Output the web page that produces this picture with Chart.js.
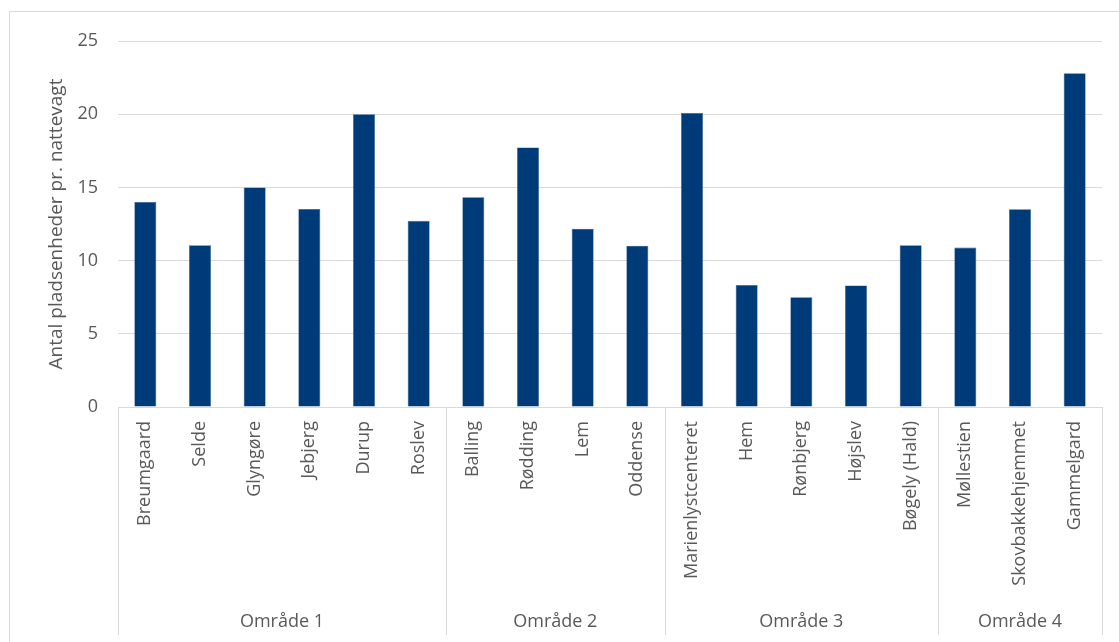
<!DOCTYPE html>
<html>
<head>
<meta charset="utf-8">
<script src="https://cdn.jsdelivr.net/npm/chart.js@4/dist/chart.umd.min.js"></script>
<style>
  html, body { margin: 0; padding: 0; background: #fff; overflow: hidden; }
  #wrap { position: relative; width: 1119px; height: 642px; overflow: hidden; }
  #frame { position: absolute; left: 9px; top: 11px; width: 2000px; height: 2000px; border: 1px solid #d9d9d9; pointer-events: none; }
  canvas { position: absolute; left: 0; top: 0; }
</style>
</head>
<body>
<div id="wrap">
  <div id="frame"></div>
  <canvas id="c" width="1119" height="642"></canvas>
</div>
<script>
const categories = ["Breumgaard", "Selde", "Glyngøre", "Jebjerg", "Durup", "Roslev",
  "Balling", "Rødding", "Lem", "Oddense",
  "Marienlystcenteret", "Hem", "Rønbjerg", "Højslev", "Bøgely (Hald)",
  "Møllestien", "Skovbakkehjemmet", "Gammelgard"];
const values = [14.0, 11.05, 15.0, 13.52, 20.0, 12.72,
  14.32, 17.73, 12.18, 11.02,
  20.09, 8.34, 7.5, 8.3, 11.05,
  10.89, 13.5, 22.8];
const groupNames = ["Område 1", "Område 2", "Område 3", "Område 4"];
const groupSizes = [6, 4, 5, 3];
const yTicks = [0, 5, 10, 15, 20, 25];
const yTitle = "Antal pladsenheder pr. nattevagt";

// group boundaries and centers in category-index units
const groupBounds = [-0.5];
const groupCenters = [];
groupSizes.forEach(n => {
  const start = groupBounds[groupBounds.length - 1];
  groupCenters.push(start + n / 2);
  groupBounds.push(start + n);
});

const FONT = "'Open Sans', 'Noto Sans', sans-serif";
const TXT = "#595959";
const GRID = "#d9d9d9";

const groupAxis = {
  id: 'groupAxis',
  afterDraw(chart) {
    const xs = chart.scales.x;
    const ctx = chart.ctx;
    ctx.save();
    ctx.strokeStyle = GRID;
    ctx.lineWidth = 1;
    const top = chart.chartArea.bottom;
    const bottom = 635;
    groupBounds.forEach(b => {
      const px = Math.round(xs.getPixelForValue(b)) + 0.5;
      ctx.beginPath();
      ctx.moveTo(px, top);
      ctx.lineTo(px, bottom);
      ctx.stroke();
    });
    ctx.fillStyle = TXT;
    ctx.font = "18px " + FONT;
    ctx.textAlign = 'center';
    ctx.textBaseline = 'middle';
    groupCenters.forEach((c, i) => {
      ctx.fillText(groupNames[i], xs.getPixelForValue(c), 622);
    });
    ctx.restore();
  }
};

new Chart(document.getElementById('c'), {
  type: 'bar',
  data: {
    labels: categories,
    datasets: [{
      data: values,
      backgroundColor: '#003b79',
      borderColor: '#2a5a92',
      borderWidth: 0.6,
      barPercentage: 1,
      categoryPercentage: 0.402
    }]
  },
  options: {
    responsive: false,
    animation: false,
    devicePixelRatio: 1,
    layout: { padding: { left: 45, right: 17, top: 41, bottom: 0 } },
    plugins: { legend: { display: false }, tooltip: { enabled: false } },
    scales: {
      y: {
        min: 0, max: 25,
        afterBuildTicks(s) { s.ticks = yTicks.map(v => ({ value: v })); },
        afterFit(s) { s.width = 73; },
        grid: { color: GRID, lineWidth: 1, drawTicks: false },
        border: { display: false },
        ticks: { color: TXT, font: { family: FONT, size: 18 }, padding: 20 },
        title: { display: true, text: yTitle, color: TXT, font: { family: FONT, size: 19 }, padding: 0 }
      },
      x: {
        type: 'category',
        position: 'bottom',
        afterFit(s) { s.height = 235; },
        grid: { display: false, drawTicks: false },
        border: { display: true, color: GRID, width: 1 },
        ticks: { color: TXT, font: { family: FONT, size: 18 }, maxRotation: 90, minRotation: 90, autoSkip: false, padding: 14 }
      }
    }
  },
  plugins: [groupAxis]
});
</script>
</body>
</html>
